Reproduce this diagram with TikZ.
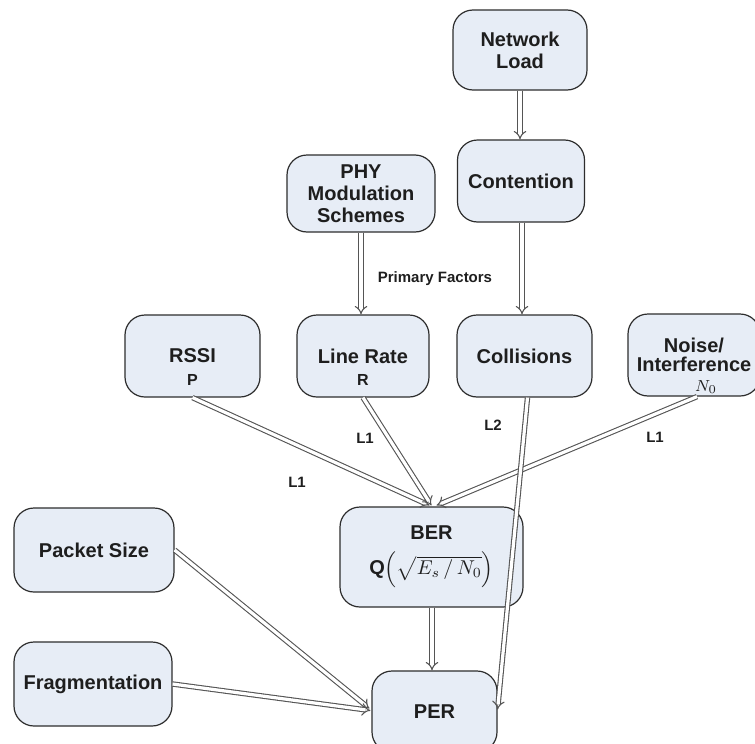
\documentclass[tikz,border=0pt]{standalone}
\usepackage{fontspec}
\setmainfont{Liberation Sans}
\usetikzlibrary{arrows.meta,calc}
\definecolor{boxfill}{RGB}{231,237,246}
\definecolor{boxline}{RGB}{45,45,45}
\definecolor{arrline}{RGB}{85,85,85}
\definecolor{txt}{RGB}{30,30,30}
\begin{document}
\begin{tikzpicture}[x=0.5pt,y=-0.5pt,
  box/.style={draw=boxline, line width=0.6pt, fill=boxfill, rounded corners=10pt,
    align=center, font=\fontsize{10}{11}\selectfont\bfseries, text=txt, inner sep=0pt},
  conn/.style={draw=arrline, line width=0.55pt, double=white, double distance=1.6pt,
    -{Implies}},
  lbl/.style={font=\fontsize{7.5}{9}\selectfont\bfseries, text=txt, inner sep=0pt},
  sub/.style={font=\fontsize{8}{9}\selectfont\bfseries, text=txt, inner sep=0pt}]
\useasboundingbox (0,0) rectangle (755,744);
\clip (0,0) rectangle (755,744);
% boxes
\node[box, minimum width=67pt, minimum height=40pt] (net) at (520,50) {Network\\Load};
\node[box, minimum width=63.5pt, minimum height=41pt] (cont) at (521,181) {Contention};
\node[box, minimum width=74pt, minimum height=38.5pt] (phy) at (361,193.5) {PHY\\Modulation\\Schemes};
\node[box, minimum width=67.5pt, minimum height=41pt] (rssi) at (192.5,356) {RSSI};
\node[box, minimum width=66pt, minimum height=41pt] (lr) at (363,356) {Line Rate};
\node[box, minimum width=67.5pt, minimum height=41pt] (col) at (524.5,356) {Collisions};
\node[box, minimum width=66pt, minimum height=41pt] (noise) at (694,355) {Noise/\\[-1.5pt]Interference};
\node[box, minimum width=91.5pt, minimum height=50pt] (ber) at (431.5,557)
  {BER\\[5pt]$\mathbf{Q}\!\left(\sqrt{E_s\,/\,N_0}\right)$};
\node[box, minimum width=80pt, minimum height=42pt] (ps) at (94,550) {Packet Size};
\node[box, minimum width=79pt, minimum height=42pt] (fr) at (93,684) {Fragmentation};
\node[box, minimum width=62.5pt, minimum height=40.5pt] (per) at (434.5,711.5) {PER};
% sub labels
\node[sub] (p) at (192.5,380) {P};
\node[sub] (r) at (363,380) {R};
\node[inner sep=0pt, font=\fontsize{8}{9}\selectfont, text=txt] (n0) at (706,387) {$N_0$};
% text labels
\node[lbl] (pf) at (435,279) {Primary Factors};
\node[lbl] (l1a) at (365,438) {L1};
\node[lbl] (l1b) at (297,482) {L1};
\node[lbl] (l2) at (493,425) {L2};
\node[lbl] (l1c) at (655,437) {L1};
% connectors
\draw[conn] (net.south) -- (net.south |- cont.north);
\draw[conn] ($(cont.south)+(1,0)$) -- ($(col.north)+(-2.5,0)$);
\draw[conn] (phy.south) -- (phy.south |- lr.north);
\draw[conn] (rssi.south) -- ($(ber.north)+(-2,-1)$);
\draw[conn] (lr.south) -- ($(ber.north)+(0,-1)$);
\draw[conn] ($(noise.south)+(3,0)$) -- ($(ber.north)+(5,-1)$);
\draw[conn] ($(col.south)+(3,0)$) -- ($(per.east)+(0,-2)$);
\draw[conn] ($(ber.south)+(0.5,0)$) -- ($(per.north)+(-2.5,0)$);
\draw[conn] (ps.east) -- ($(per.west)+(-2,-3)$);
\draw[conn] (fr.east) -- ($(per.west)+(-1,-1)$);
\end{tikzpicture}
\end{document}
